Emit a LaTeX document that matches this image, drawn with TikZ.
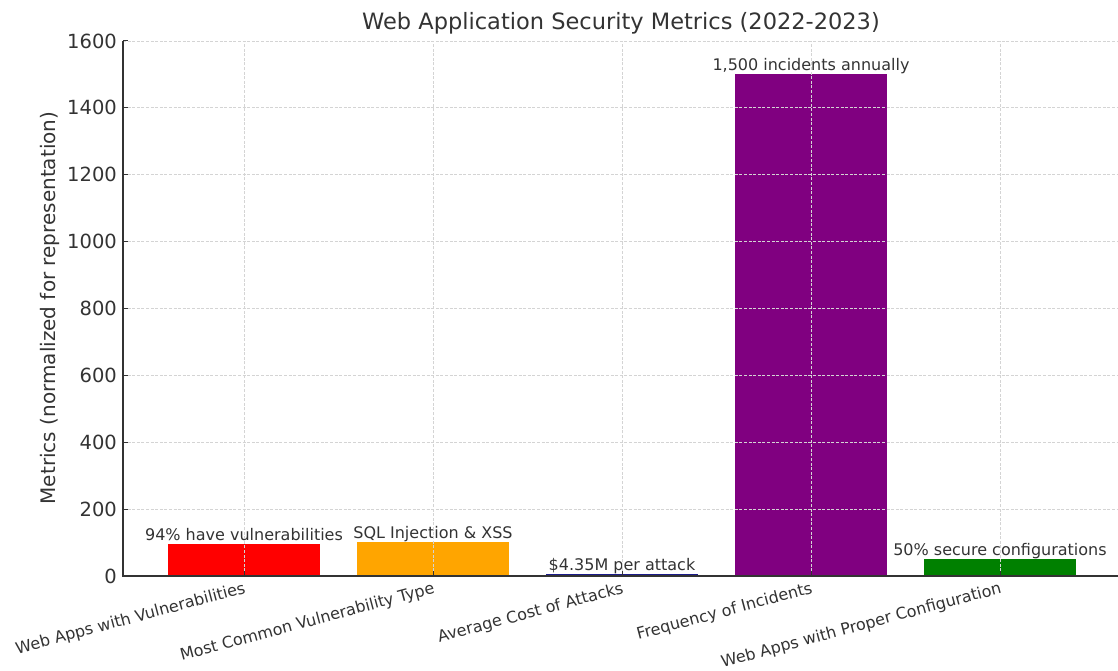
\documentclass[tikz,border=0pt]{standalone}
\usepackage{fontspec}
\setmainfont{DejaVu Sans}
\definecolor{txt}{HTML}{333333}
\definecolor{gridc}{HTML}{D4D4D4}
\definecolor{barred}{HTML}{FF0000}
\definecolor{barorange}{HTML}{FFA500}
\definecolor{barblue}{HTML}{1C1C8A}
\definecolor{barpurple}{HTML}{800080}
\definecolor{bargreen}{HTML}{008000}
\tikzset{
  gridline/.style={draw=gridc, line width=0.8pt, dash pattern=on 3pt off 1.6pt},
  spine/.style={draw=txt, line width=1.4pt},
  tickmark/.style={draw=txt, line width=1pt},
  numlbl/.style={text=txt, font=\fontsize{19.5}{22}\selectfont, inner sep=0pt},
  catlbl/.style={text=txt, font=\fontsize{16}{18}\selectfont, inner sep=0pt,
    rotate=15, anchor=north east},
  vallbl/.style={text=txt, font=\fontsize{16}{18}\selectfont, inner sep=0pt,
    anchor=base},
}
\begin{document}
\begin{tikzpicture}[x=1pt,y=1pt]
  \useasboundingbox (0,0) rectangle (1118,670);
  \node[numlbl, font=\fontsize{22.5}{26}\selectfont, anchor=base] (title) at (621,640)
    {Web Application Security Metrics (2022-2023)};
  \node[numlbl, font=\fontsize{20}{22}\selectfont, rotate=90] (ylabel) at (50,362)
    {Metrics (normalized for representation)};
  \begin{scope}[shift={(244,94)}, x=189pt, y=0.334375pt]
    \coordinate (O) at (-0.64,0);
    \coordinate (E) at (4.624,0);
    \coordinate (T) at (-0.64,1600);
    % bars with their value labels
    \foreach \i/\v/\col/\lbl in {0/94/barred/{94\% have vulnerabilities},
        1/100/barorange/{SQL Injection \& XSS},
        2/4.35/barblue/{\$4.35M per attack},
        3/1500/barpurple/{1,500 incidents annually},
        4/50/bargreen/{50\% secure configurations}}
    {
      \filldraw[fill=\col, draw=\col, line width=0.8pt] (\i-0.4,0) rectangle (\i+0.4,\v);
      \node[vallbl, yshift=4pt] (val\i) at (\i,\v) {\lbl};
    }
    % grid
    \foreach \v in {200,400,...,1600}
      \draw[gridline] (-0.64,\v) -- (4.624,\v);
    \foreach \i in {0,...,4}
      \draw[gridline] (\i,0) -- (\i,1600);
    % axes
    \draw[spine] (T) -- (O) -- (E);
    \foreach \v in {0,200,...,1600} {
      \draw[tickmark] (-0.64,\v) -- ++(5pt,0);
      \node[numlbl, anchor=east, xshift=-6pt] (ytick\v) at (-0.64,\v) {\v};
    }
    \foreach \i/\lbl in {0/Web Apps with Vulnerabilities,
        1/Most Common Vulnerability Type,
        2/Average Cost of Attacks,
        3/Frequency of Incidents,
        4/Web Apps with Proper Configuration}
    {
      \draw[tickmark] (\i,0) -- ++(0,5pt);
      \node[catlbl, xshift=-2pt, yshift=-4.5pt] (cat\i) at (\i,0) {\lbl};
    }
  \end{scope}
\end{tikzpicture}
\end{document}
